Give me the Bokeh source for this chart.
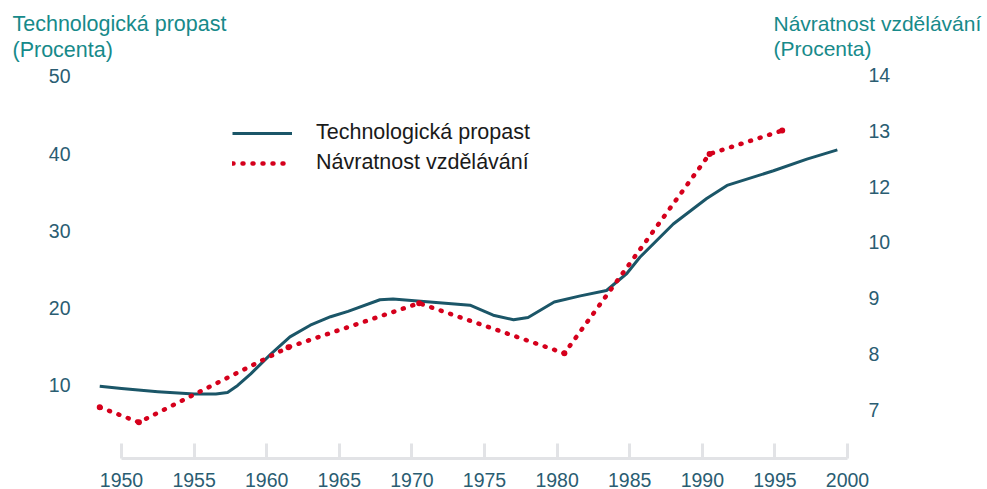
from bokeh.plotting import figure
from bokeh.models import (Range1d, LinearAxis, FixedTicker, Label, Legend, LegendItem)
from bokeh.embed import file_html
from bokeh.resources import INLINE

# --- data ---
tech_years = [1948.5, 1950, 1952.5, 1955, 1956.5, 1957.3, 1958, 1958.9, 1960.3, 1961.6,
              1963, 1964.4, 1965.6, 1967.8, 1968.7, 1970.6, 1974, 1975.6, 1977, 1978,
              1979.8, 1981.6, 1983.4, 1984.8, 1985.7, 1988, 1990.3, 1991.7, 1994.9,
              1997.2, 1999.3]
tech_gap = [9.9, 9.6, 9.2, 8.9, 8.9, 9.1, 10.0, 11.5, 14.1, 16.3,
            17.8, 18.9, 19.6, 21.1, 21.2, 20.9, 20.4, 19.1, 18.5, 18.8,
            20.8, 21.6, 22.3, 24.5, 26.6, 30.9, 34.2, 35.9, 37.8,
            39.3, 40.5]

ret_years = [1948.5, 1951.2, 1961.5, 1970.5, 1980.5, 1990.5, 1995.5]
# positions on the right-hand axis (axis as printed: 7, 8, 9, 10, 12, 13, 14)
ret_pos = [7.04, 6.77, 8.12, 8.91, 8.01, 11.59, 12.01]

x_ticks = [1950, 1955, 1960, 1965, 1970, 1975, 1980, 1985, 1990, 1995, 2000]
left_ticks = [10, 20, 30, 40, 50]
right_ticks = [7, 8, 9, 10, 11, 12, 13]
right_labels = ["7", "8", "9", "10", "12", "13", "14"]

left_title = "Technologická propast\n(Procenta)"
right_title = "Návratnost vzdělávání\n(Procenta)"
series_names = ["Technologická propast", "Návratnost vzdělávání"]

BLUE = "#1b5668"
RED = "#d5001c"
TICK = "#2a5d72"
TITLE = "#178a8a"
FONT = "Liberation Sans"

p = figure(width=987, height=489, output_backend="svg", toolbar_location=None,
           x_range=Range1d(1942.355, 2009.64), y_range=Range1d(0.55, 58.80),
           min_border_left=10, min_border_right=0, min_border_top=8,
           min_border_bottom=31)
p.extra_y_ranges = {"right": Range1d(6.12, 14.203)}
p.outline_line_color = None
p.grid.visible = False
p.background_fill_color = "white"
p.border_fill_color = "white"

# x axis
xa = p.xaxis[0]
xa.ticker = FixedTicker(ticks=x_ticks)
xa.bounds = (1950, 2000)
xa.axis_line_color = "#e2e3e6"
xa.axis_line_width = 3
xa.major_tick_line_color = "#e2e3e6"
xa.major_tick_line_width = 3
xa.major_tick_in = 15
xa.major_tick_out = 0
xa.minor_tick_line_color = None
xa.major_label_text_font = FONT
xa.major_label_text_font_size = "19.5px"
xa.major_label_text_color = TICK
xa.major_label_standoff = 14

# left axis (labels pulled inside the frame)
ya = p.yaxis[0]
ya.ticker = FixedTicker(ticks=left_ticks)
ya.axis_line_color = None
ya.major_tick_line_color = None
ya.minor_tick_line_color = None
ya.major_tick_in = 0
ya.major_tick_out = 0
ya.major_label_text_font = FONT
ya.major_label_text_font_size = "19.5px"
ya.major_label_text_color = TICK
ya.major_label_standoff = -60

# right axis (labels pulled inside the frame)
ra = LinearAxis(y_range_name="right", ticker=FixedTicker(ticks=right_ticks),
                major_label_overrides={t: l for t, l in zip(right_ticks, right_labels)})
ra.axis_line_color = None
ra.major_tick_line_color = None
ra.minor_tick_line_color = None
ra.major_tick_in = 0
ra.major_tick_out = 0
ra.major_label_text_font = FONT
ra.major_label_text_font_size = "19.5px"
ra.major_label_text_color = TICK
ra.major_label_standoff = -119
p.add_layout(ra, "right")

# series
r_blue = p.line(tech_years, tech_gap, line_color=BLUE, line_width=3, line_join="round")
r_red = p.line(ret_years, ret_pos, y_range_name="right", line_color=RED, line_width=4.5,
               line_dash="1 9", line_cap="round")
p.scatter(ret_years, ret_pos, y_range_name="right", size=6, fill_color=RED, line_color=None)

legend = Legend(items=[LegendItem(label=series_names[0], renderers=[r_blue]),
                       LegendItem(label=series_names[1], renderers=[r_red])],
                location=(222, 283), orientation="vertical")
legend.background_fill_alpha = 0
legend.border_line_alpha = 0
legend.padding = 0
legend.margin = 0
legend.spacing = 5
legend.glyph_width = 60
legend.label_standoff = 24
legend.label_text_font = FONT
legend.label_text_font_size = "21.5px"
legend.label_text_color = "#1a1a1a"
p.add_layout(legend, "center")

for txt, xs, fs in [(left_title, 2, "21.5px"), (right_title, 763, "21px")]:
    p.add_layout(Label(x=xs, y=447, x_units="screen", y_units="screen", text=txt,
                       text_font=FONT, text_font_size=fs, text_color=TITLE,
                       text_baseline="top", text_align="left", text_line_height=1.1))

open("out.html", "w").write(file_html(p, INLINE))
